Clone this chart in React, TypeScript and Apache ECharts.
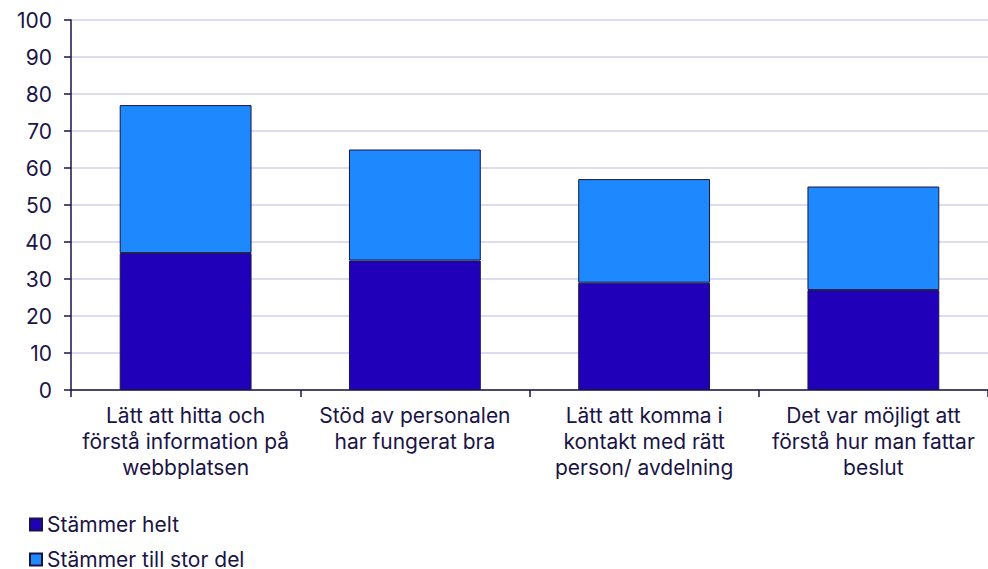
import React, { useEffect, useRef } from "react";
import * as echarts from "echarts";

const categories = [
  "Lätt att hitta och\nförstå information på\nwebbplatsen",
  "Stöd av personalen\nhar fungerat bra",
  "Lätt att komma i\nkontakt med rätt\nperson/ avdelning",
  "Det var möjligt att\nförstå hur man fattar\nbeslut",
];
const seriesNames = ["Stämmer helt", "Stämmer till stor del"];
const stammerHelt = [37, 35, 29, 27];
const stammerTillStorDel = [40, 30, 28, 28];

const TEXT = "#1a1446";
const FONT = "Inter";
const FS = 21;

export default function App() {
  const ref = useRef<HTMLDivElement>(null);
  useEffect(() => {
    document.body.style.margin = "0";
    const chart = echarts.init(ref.current!, null, { renderer: "svg" });
    const itemBorder = { borderColor: TEXT, borderWidth: 1 };
    const legendBase = {
      orient: "vertical",
      left: 29,
      padding: 0,
      itemWidth: 12,
      itemHeight: 12,
      icon: "rect",
      textStyle: { fontFamily: FONT, fontSize: FS, color: TEXT, lineHeight: 18 },
    };
    chart.setOption({
      animation: false,
      textStyle: { fontFamily: FONT, color: TEXT },
      grid: { left: 71, right: -1, top: 20, bottom: 179, containLabel: false },
      legend: [
        { ...legendBase, top: 514, data: [seriesNames[0]] },
        { ...legendBase, top: 549, data: [seriesNames[1]] },
      ],
      xAxis: {
        type: "category",
        data: categories,
        axisLine: { lineStyle: { color: TEXT, width: 1.5 } },
        axisTick: { show: true, length: 7, lineStyle: { color: TEXT, width: 1.5 } },
        axisLabel: {
          interval: 0,
          margin: 12,
          fontFamily: FONT,
          fontSize: FS,
          lineHeight: 26,
          color: TEXT,
          align: "center",
        },
      },
      yAxis: {
        type: "value",
        min: 0,
        max: 100,
        interval: 10,
        axisLine: { show: true, lineStyle: { color: TEXT, width: 1.5 } },
        axisTick: { show: true, length: 7, lineStyle: { color: TEXT, width: 1.5 } },
        axisLabel: { margin: 19, fontFamily: FONT, fontSize: FS, color: TEXT },
        splitLine: { show: true, lineStyle: { color: "#d0d0ee", width: 1.5 } },
      },
      series: [
        {
          name: seriesNames[0],
          type: "bar",
          stack: "total",
          barWidth: "57.5%",
          data: stammerHelt,
          itemStyle: { color: "#2100b9", ...itemBorder },
        },
        {
          name: seriesNames[1],
          type: "bar",
          stack: "total",
          barWidth: "57.5%",
          data: stammerTillStorDel,
          itemStyle: { color: "#1e88ff", ...itemBorder },
        },
      ],
    });
    return () => chart.dispose();
  }, []);
  return <div ref={ref} style={{ width: 988, height: 569 }} />;
}
